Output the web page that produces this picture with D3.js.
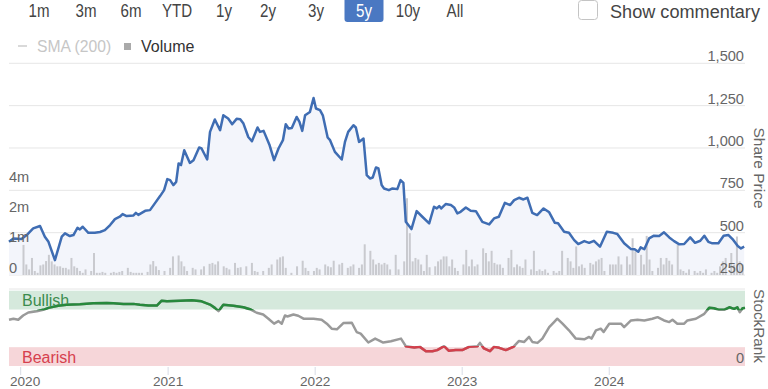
<!DOCTYPE html>
<html><head><meta charset="utf-8">
<script src="https://cdn.jsdelivr.net/npm/d3@7"></script>
<style>
body{margin:0;background:#fff;}
svg{display:block;font-family:"Liberation Sans",Arial,sans-serif;}
</style></head><body>
<svg id="c" width="768" height="389"></svg>
<script>
// ---------------- DATA ----------------
const rangeButtons = ["1m","3m","6m","YTD","1y","2y","3y","5y","10y","All"];
const activeRange = "5y";
const commentaryLabel = "Show commentary";
const legendItems = ["SMA (200)","Volume"];
const yearTicks = ["2020","2021","2022","2023","2024"];
const priceTicks = [250,500,750,1000,1250,1500];
const volumeTicks = [0,1,2,4];               // millions
const volumeTickLabels = ["0","1m","2m","4m"];
const rankBands = {bullish:75, bearish:25};

const priceDates = ["2019-12-03","2019-12-14","2020-01-03","2020-01-16","2020-02-01","2020-02-18","2020-03-01","2020-03-10","2020-03-26","2020-04-12","2020-04-20","2020-05-02","2020-05-11","2020-05-21","2020-05-27","2020-06-03","2020-06-17","2020-07-03","2020-07-16","2020-07-28","2020-08-10","2020-08-22","2020-09-03","2020-09-10","2020-09-20","2020-10-07","2020-10-13","2020-10-19","2020-11-05","2020-11-17","2020-11-29","2020-12-12","2020-12-22","2020-12-30","2021-01-06","2021-01-14","2021-01-21","2021-01-27","2021-02-02","2021-02-10","2021-02-24","2021-03-05","2021-03-19","2021-03-25","2021-04-08","2021-04-15","2021-04-27","2021-05-10","2021-05-18","2021-05-30","2021-06-09","2021-06-20","2021-06-29","2021-07-07","2021-07-19","2021-07-28","2021-08-11","2021-08-17","2021-08-26","2021-09-10","2021-09-21","2021-10-02","2021-10-13","2021-10-20","2021-10-27","2021-11-04","2021-11-16","2021-11-23","2021-11-30","2021-12-07","2021-12-19","2021-12-28","2022-01-03","2022-01-13","2022-01-20","2022-02-01","2022-02-07","2022-02-19","2022-03-08","2022-03-16","2022-03-24","2022-04-06","2022-04-12","2022-04-20","2022-05-01","2022-05-09","2022-05-17","2022-05-24","2022-06-01","2022-06-07","2022-06-15","2022-06-21","2022-07-03","2022-07-12","2022-07-24","2022-08-01","2022-08-08","2022-08-14","2022-08-28","2022-09-10","2022-09-24","2022-10-11","2022-10-23","2022-10-30","2022-11-05","2022-11-10","2022-11-21","2022-12-04","2022-12-12","2022-12-20","2022-12-28","2023-01-10","2023-01-22","2023-02-04","2023-02-20","2023-03-09","2023-03-21","2023-04-02","2023-04-17","2023-04-30","2023-05-10","2023-05-22","2023-06-02","2023-06-12","2023-06-24","2023-07-06","2023-07-22","2023-08-05","2023-08-19","2023-08-27","2023-09-11","2023-09-23","2023-10-06","2023-10-16","2023-10-31","2023-11-12","2023-11-24","2023-12-09","2023-12-26","2024-01-11","2024-01-21","2024-02-07","2024-02-24","2024-03-04","2024-03-13","2024-03-19","2024-03-28","2024-04-09","2024-04-21","2024-05-04","2024-05-16","2024-05-29","2024-06-10","2024-06-23","2024-07-05","2024-07-20","2024-08-01","2024-08-14","2024-08-24","2024-09-03","2024-09-13","2024-09-28","2024-10-11","2024-10-23","2024-11-02","2024-11-15","2024-11-23","2024-12-01"];
const priceValues = [446,466,463,486,525,539,476,446,338,476,496,480,486,529,519,535,499,499,504,515,545,580,594,610,598,602,617,605,629,633,673,716,751,816,810,781,800,909,899,987,912,928,1003,997,932,1095,1168,1105,1193,1174,1140,1172,1170,1144,1065,1040,1121,1095,1101,1016,928,997,1046,1140,1115,1118,1183,1154,1101,1193,1213,1295,1233,1223,1193,1062,1046,977,932,1036,1095,1134,1121,1036,1056,840,820,826,885,879,781,761,751,761,757,810,794,564,521,627,594,555,653,643,657,643,669,663,649,614,623,649,629,627,564,549,584,594,676,663,692,706,696,706,617,604,643,620,558,555,505,499,456,433,450,440,452,417,505,499,492,437,403,402,387,413,402,466,482,480,502,472,450,431,433,472,440,452,482,446,437,437,482,486,462,421,407,417];

// volume: week number counted from volumeWeekStart, value in millions
const volumeWeekStart = "2020-01-01";
const volumeWeeks = [1,2,3,4,5,6,7,8,9,10,11,12,13,14,15,16,17,18,19,20,21,22,23,25,26,27,28,29,30,32,33,34,35,36,38,39,40,41,42,43,45,46,47,48,49,51,53,54,56,57,58,59,61,62,64,65,67,68,69,70,72,73,74,76,77,78,80,82,83,84,86,88,89,91,92,93,94,96,98,100,101,102,104,105,106,108,109,110,111,113,114,116,117,118,120,121,122,124,125,126,127,128,
129,130,131,133,134,136,137,138,139,140,141,142,143,144,145,147,148,149,150,151,152,153,154,155,157,158,159,160,161,162,164,165,166,167,168,169,170,171,173,174,175,176,177,178,179,181,182,183,184,185,186,187,189,190,191,192,194,195,196,197,198,199,200,202,203,204,205,206,207,209,210,211,212,213,215,216,217,218,220,221,222,223,224,226,227,228,229,230,231,233,234,235,236,237,239,240,241,242,243,245,246,247,248,249,250,252,253,254,255,256];
const volumeValues = [0.97,0.34,0.18,0.55,0.13,0.07,0.31,0.34,0.45,0.65,0.44,0.34,0.28,0.28,0.23,0.23,0.18,0.55,0.28,0.23,0.13,0.07,0.18,0.13,0.71,0.07,0.07,0.10,0.07,0.07,0.10,0.07,0.10,0.13,0.23,0.10,0.07,0.07,0.07,0.07,0.10,0.34,0.45,0.28,0.16,0.13,0.23,0.60,0.63,0.44,0.28,0.13,0.23,0.18,0.18,0.28,0.36,0.39,0.34,0.44,0.28,0.23,0.18,0.39,0.23,0.25,0.28,0.39,0.13,0.10,0.13,0.23,0.34,0.50,0.57,0.60,0.23,0.07,0.28,0.46,0.23,0.13,0.13,0.23,0.18,0.34,0.28,0.25,0.46,0.34,0.39,0.23,0.28,0.34,0.23,0.34,0.99,0.78,0.50,0.34,0.39,0.34,
0.39,0.34,0.18,0.65,0.18,0.44,3.05,1.36,0.44,0.55,0.50,0.34,0.13,0.65,0.25,0.28,0.44,0.50,0.60,0.60,0.28,0.50,0.23,0.13,0.34,0.81,0.28,0.50,0.28,0.34,0.86,0.71,0.44,0.78,0.39,0.34,0.34,0.23,0.55,0.81,0.25,0.34,0.28,0.23,0.50,0.18,0.78,0.13,0.18,0.13,0.18,0.07,0.13,0.07,0.13,0.78,0.55,0.44,0.23,0.92,0.28,0.34,0.23,0.39,0.34,0.44,0.50,0.55,0.13,0.34,0.34,0.34,0.60,0.34,0.60,0.34,1.19,0.76,0.65,0.34,1.27,0.50,0.13,0.23,0.55,0.34,0.55,0.46,0.34,0.97,0.18,0.13,0.07,0.18,0.13,0.07,0.13,0.07,0.18,0.07,0.13,0.07,0.28,0.44,0.55,0.71,0.34,1.25,0.44,0.34];

const rankDates = ["2019-12-03","2019-12-14","2019-12-26","2020-01-07","2020-01-20","2020-02-10","2020-02-26","2020-03-10","2020-04-03","2020-04-24","2020-05-27","2020-06-29","2020-08-02","2020-08-18","2020-09-12","2020-10-07","2020-10-23","2020-11-13","2020-12-04","2020-12-16","2020-12-29","2021-01-31","2021-03-01","2021-03-25","2021-04-15","2021-04-27","2021-05-06","2021-05-18","2021-06-12","2021-07-07","2021-07-23","2021-08-09","2021-08-25","2021-09-07","2021-09-21","2021-10-02","2021-10-10","2021-10-18","2021-10-24","2021-11-08","2021-11-20","2021-12-03","2021-12-28","2022-01-17","2022-01-30","2022-02-11","2022-02-24","2022-03-12","2022-04-02","2022-04-14","2022-04-24","2022-05-13","2022-05-30","2022-06-19","2022-07-08","2022-08-02","2022-08-14","2022-09-04","2022-09-18","2022-10-03","2022-10-19","2022-10-31","2022-11-17","2022-11-29","2022-12-16","2023-01-01","2023-01-18","2023-02-08","2023-02-14","2023-02-24","2023-03-11","2023-03-21","2023-04-03","2023-04-19","2023-05-08","2023-05-22","2023-06-04","2023-06-16","2023-06-24","2023-07-07","2023-07-19","2023-08-05","2023-08-17","2023-08-25","2023-09-07","2023-09-23","2023-10-10","2023-10-31","2023-11-12","2023-11-18","2023-11-29","2023-12-11","2023-12-18","2024-01-01","2024-01-13","2024-01-30","2024-02-07","2024-02-24","2024-03-11","2024-03-28","2024-04-17","2024-04-30","2024-05-16","2024-05-29","2024-06-06","2024-06-18","2024-07-05","2024-07-13","2024-08-03","2024-08-24","2024-09-05","2024-09-17","2024-09-30","2024-10-12","2024-10-25","2024-11-06","2024-11-14","2024-11-20","2024-11-27","2024-12-03"];
const rankValues = [61.4,62.8,61.4,67.1,71.1,72.8,74.6,77.2,79.9,81.2,82.0,83.3,83.8,83.3,82.5,82.5,81.2,80.3,80.3,86.8,85.9,86.8,87.2,85.9,81.6,77.2,72.8,81.2,79.9,78.0,75.4,70.7,68.4,62.8,56.2,59.6,56.2,67.1,65.8,68.4,66.7,62.8,62.8,61.4,56.2,49.6,48.7,57.0,57.5,45.1,43.0,31.2,36.4,31.2,32.9,36.4,26.3,24.6,25.4,19.7,19.7,21.1,26.3,20.1,21.1,21.1,25.4,26.3,30.7,23.3,19.7,25.4,24.1,21.1,25.4,33.3,32.0,38.6,32.0,30.7,36.4,51.7,58.3,62.8,56.2,47.4,36.4,35.5,38.6,36.4,47.4,49.6,45.1,56.2,56.2,56.2,51.7,60.5,61.4,60.5,62.8,64.9,60.5,58.3,61.4,56.2,56.2,60.5,62.8,69.3,77.2,76.7,74.6,74.6,78.0,75.9,78.0,71.4,76.7,77.2];

// ---------------- LAYOUT ----------------
const L = 9, R = 745;
const priceTop = 63.3, priceBottom = 275;
const rankTop = 290.7, rankBottom = 366;
const buttonCenters = [39,86,131,177,224,268,316,364,408,455];
const narrow = 0.84;

const parse = d3.timeParse("%Y-%m-%d");
const svg = d3.select("#c");

const x = d3.scaleTime().domain([parse("2019-12-03"), parse("2024-12-03")]).range([L, R]);
const yP = d3.scaleLinear().domain([250,1500]).range([priceBottom, priceTop]);
const yV = d3.scaleLinear().domain(volumeTicks).range([275,244,214,184]);
const yR = d3.scaleLinear().domain([0,100]).range([rankBottom, rankTop]);

const price = priceDates.map((d,i)=>({date:parse(d), v:priceValues[i]}));
const vStart = parse(volumeWeekStart);
const vol = volumeWeeks.map((w,i)=>({date:d3.timeDay.offset(vStart, w*7), v:volumeValues[i]}));
const rank = rankDates.map((d,i)=>({date:parse(d), v:rankValues[i]}));

// fit a text element's font size so it spans a target width
function fitWidth(sel, target){
  const n = sel.node(); const fs = parseFloat(sel.attr("font-size"));
  const w = n.getComputedTextLength();
  if (w > 0) sel.attr("font-size", (fs*target/w).toFixed(2));
  return sel;
}

// ---------- header ----------
const hdr = svg.append("g");
buttonCenters.forEach((cx,i)=>{
  const lab = rangeButtons[i];
  if (lab === activeRange) {
    hdr.append("rect").attr("x", cx-19.5).attr("y", -3).attr("width", 39).attr("height", 25)
      .attr("rx", 3).attr("fill", "#4a78c2");
  }
  hdr.append("text").attr("transform",`translate(${cx},17) scale(${narrow},1)`).attr("text-anchor","middle")
    .attr("font-size", 18).attr("fill", lab === activeRange ? "#fff" : "#444").text(lab);
});
hdr.append("rect").attr("x",578.5).attr("y",0.5).attr("width",19).attr("height",19).attr("rx",3)
  .attr("fill","#fff").attr("stroke","#c4c4c4");
fitWidth(hdr.append("text").attr("x",610).attr("y",17.5).attr("font-size",20).attr("fill","#444").text(commentaryLabel), 150);

// legend
hdr.append("line").attr("x1",18).attr("x2",27).attr("y1",46).attr("y2",46).attr("stroke","#cccccc").attr("stroke-width",1.5);
hdr.append("text").attr("x",37).attr("y",52).attr("font-size",15.7).attr("fill","#c6c6c6").text(legendItems[0]);
hdr.append("rect").attr("x",124).attr("y",43).attr("width",7).attr("height",7).attr("fill","#aaaaaa");
hdr.append("text").attr("x",141).attr("y",52).attr("font-size",16).attr("fill","#333").text(legendItems[1]);

// ---------- price panel ----------
const g = svg.append("g");
g.selectAll("line.grid").data(priceTicks).join("line").attr("class","grid")
  .attr("x1",L).attr("x2",R).attr("y1",d=>yP(d)).attr("y2",d=>yP(d))
  .attr("stroke","#e6e6e6").attr("stroke-width",1);

g.append("path").datum(price)
  .attr("d", d3.area().x(d=>x(d.date)).y0(priceBottom).y1(d=>yP(d.v)))
  .attr("fill","#f3f5fb");

g.selectAll("rect.vol").data(vol).join("rect").attr("class","vol")
  .attr("x", d=>x(d.date)-1).attr("width",2)
  .attr("y", d=>yV(d.v)).attr("height", d=>yV(0)-yV(d.v))
  .attr("fill","#c9cacf");

g.append("path").datum(price)
  .attr("d", d3.line().x(d=>x(d.date)).y(d=>yP(d.v)))
  .attr("fill","none").attr("stroke","#3f6db3").attr("stroke-width",2.5).attr("stroke-linejoin","round");

// price labels
g.selectAll("text.pt").data(priceTicks).join("text").attr("class","pt")
  .attr("x",744).attr("y",d=>yP(d)-2).attr("text-anchor","end")
  .attr("font-size",14.6).attr("fill","#666").text(d=>d3.format(",")(d));
// volume labels
g.selectAll("text.vt").data(volumeTicks).join("text").attr("class","vt")
  .attr("x",9).attr("y",d=>yV(d)-2)
  .attr("font-size",14.6).attr("fill","#666").text((d,i)=>volumeTickLabels[i]);

// axis titles
svg.append("text").attr("transform","translate(754,168) rotate(90)").attr("text-anchor","middle")
  .attr("font-size",15.5).attr("fill","#666").text("Share Price");
svg.append("text").attr("transform","translate(754,326) rotate(90)").attr("text-anchor","middle")
  .attr("font-size",15.3).attr("fill","#666").text("StockRank");

// ---------- rank panel ----------
const rg = svg.append("g");
rg.append("line").attr("x1",L).attr("x2",R).attr("y1",289).attr("y2",289).attr("stroke","#e6e6e6");
rg.append("rect").attr("x",L).attr("width",R-L).attr("y",yR(100)).attr("height",yR(rankBands.bullish)-yR(100)).attr("fill","#d5e9dc");
rg.append("rect").attr("x",L).attr("width",R-L).attr("y",yR(rankBands.bearish)).attr("height",yR(0)-yR(rankBands.bearish)).attr("fill","#f6d6d9");
rg.append("text").attr("x",22).attr("y",305.5).attr("font-size",16).attr("fill","#3b8c4e").text("Bullish");
rg.append("text").attr("x",22).attr("y",363).attr("font-size",16).attr("fill","#d6404e").text("Bearish");
rg.append("text").attr("x",744).attr("y",363).attr("text-anchor","end").attr("font-size",14.6).attr("fill","#666").text("0");

const defs = svg.append("defs");
defs.append("clipPath").attr("id","cg").append("rect").attr("x",0).attr("width",768).attr("y",0).attr("height",yR(74));
defs.append("clipPath").attr("id","cr").append("rect").attr("x",0).attr("width",768).attr("y",yR(26.5)).attr("height",389-yR(26.5));
const rline = d3.line().x(d=>x(d.date)).y(d=>yR(d.v));
rg.append("path").datum(rank).attr("d",rline).attr("fill","none").attr("stroke","#9a9a9a").attr("stroke-width",2.5).attr("stroke-linejoin","round");
rg.append("path").datum(rank).attr("d",rline).attr("fill","none").attr("stroke","#27893c").attr("stroke-width",2.5).attr("stroke-linejoin","round").attr("clip-path","url(#cg)");
rg.append("path").datum(rank).attr("d",rline).attr("fill","none").attr("stroke","#d2404c").attr("stroke-width",2.5).attr("stroke-linejoin","round").attr("clip-path","url(#cr)");

// x axis
const yearDates = yearTicks.map(y=>parse(y+"-01-01"));
rg.selectAll("line.xt").data(yearDates).join("line").attr("class","xt")
  .attr("x1",d=>x(d)).attr("x2",d=>x(d)).attr("y1",367).attr("y2",375).attr("stroke","#d8dce6");
rg.selectAll("text.xl").data(yearDates).join("text").attr("class","xl")
  .attr("y",386).attr("font-size",13.6).attr("fill","#666").attr("text-anchor","middle")
  .text((d,i)=>yearTicks[i])
  .attr("x",function(d){ const w=this.getComputedTextLength(); return Math.max(x(d), L+1+w/2); });
</script>
</body></html>
